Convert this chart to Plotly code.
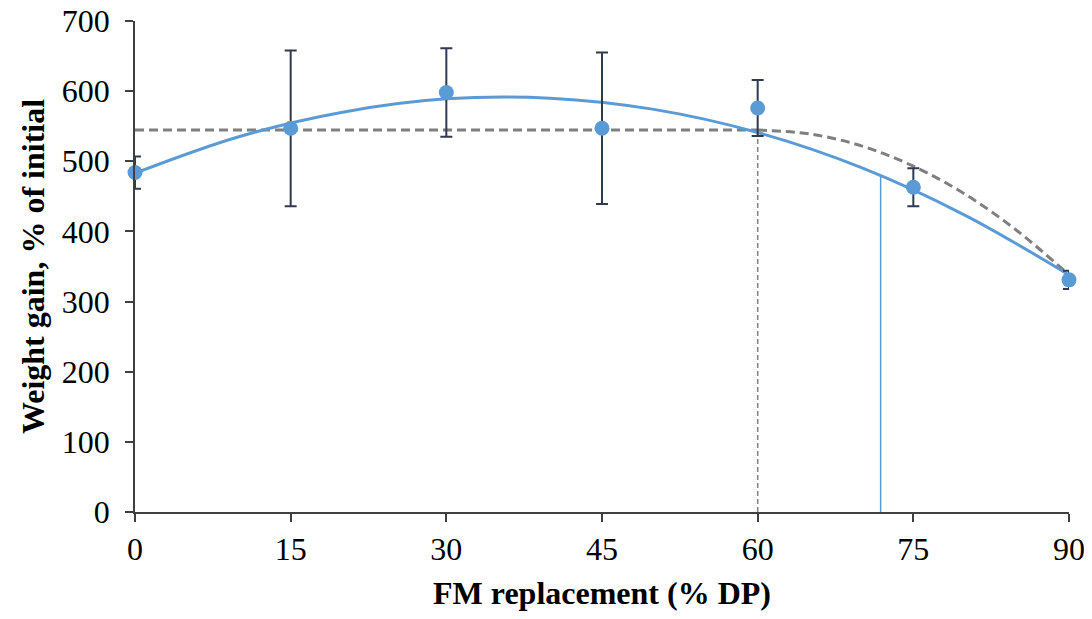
import plotly.graph_objects as go

# Observed means and error bars
x_levels = [0, 15, 30, 45, 60, 75, 90]
weight_gain = [484, 547, 598, 547, 576, 463, 331]
error_sd = [23, 111, 63, 108, 40, 27, 13]

# Quadratic trend line
trend_x = [0, 10, 20, 30, 40, 50, 60, 70, 80, 90]
trend_y = [483, 535, 570, 589, 590, 574, 541, 491, 423, 338]

# Broken-line model
plateau_x = [0, 60]
plateau_y = [544.5, 544.5]
decline_x = [60, 65, 70, 75, 80, 85, 90]
decline_y = [544.5, 539, 522, 493, 453, 401, 338]

# Reference lines
breakpoint_x = [60, 60]
breakpoint_y = [0, 544.5]
optimum_x = [71.85, 71.85]
optimum_y = [0, 480]

x_ticks = [0, 15, 30, 45, 60, 75, 90]

BLUE = "#5B9BD5"
GREY = "#7F7F7F"
AXIS = "#404040"
ERR = "#2F3A4E"
FONT = "Liberation Serif"

fig = go.Figure()

fig.add_trace(go.Scatter(x=plateau_x, y=plateau_y, mode="lines",
                         line=dict(color=GREY, width=3, dash="9px,5px"),
                         hoverinfo="skip", showlegend=False))
fig.add_trace(go.Scatter(x=decline_x, y=decline_y, mode="lines",
                         line=dict(color=GREY, width=3, dash="9px,5px", shape="spline"),
                         hoverinfo="skip", showlegend=False))
fig.add_trace(go.Scatter(x=breakpoint_x, y=breakpoint_y, mode="lines",
                         line=dict(color=GREY, width=1.5, dash="5px,3px"),
                         hoverinfo="skip", showlegend=False))
fig.add_trace(go.Scatter(x=optimum_x, y=optimum_y, mode="lines",
                         line=dict(color=BLUE, width=1.5),
                         hoverinfo="skip", showlegend=False))
fig.add_trace(go.Scatter(x=trend_x, y=trend_y, mode="lines",
                         line=dict(color=BLUE, width=3, shape="spline"),
                         hoverinfo="skip", showlegend=False))
fig.add_trace(go.Scatter(x=x_levels, y=weight_gain, mode="markers",
                         marker=dict(color=BLUE, size=15),
                         error_y=dict(type="data", array=error_sd, visible=True,
                                      color=ERR, thickness=2, width=6),
                         cliponaxis=False, showlegend=False))

fig.update_layout(
    width=1092, height=619,
    margin=dict(l=127, r=31, t=13, b=115, autoexpand=False),
    plot_bgcolor="white", paper_bgcolor="white",
    font=dict(family=FONT, color="black", size=32),
    showlegend=False,
)
fig.update_xaxes(
    range=[0, 90], tickvals=x_ticks, ticks="outside", ticklen=8, tickwidth=1.5,
    tickcolor=AXIS, showline=True, linecolor=AXIS, linewidth=1.5,
    showgrid=False, zeroline=False, automargin=False, ticklabeloverflow="allow",
    tickfont=dict(family=FONT, size=32, color="black"),
    title=dict(text="<b>FM replacement (% DP)</b>",
               font=dict(family=FONT, size=32, color="black"), standoff=15),
)
fig.update_yaxes(
    range=[0, 700], dtick=100, ticks="outside", ticklen=8, tickwidth=1.5,
    tickcolor=AXIS, showline=True, linecolor=AXIS, linewidth=1.5,
    showgrid=False, zeroline=False, automargin=False, ticklabelstandoff=9,
    ticklabeloverflow="allow",
    tickfont=dict(family=FONT, size=32, color="black"),
    title=dict(text="<b>Weight gain, % of initial</b>",
               font=dict(family=FONT, size=32, color="black"), standoff=8),
)

fig.write_html("out.html")
